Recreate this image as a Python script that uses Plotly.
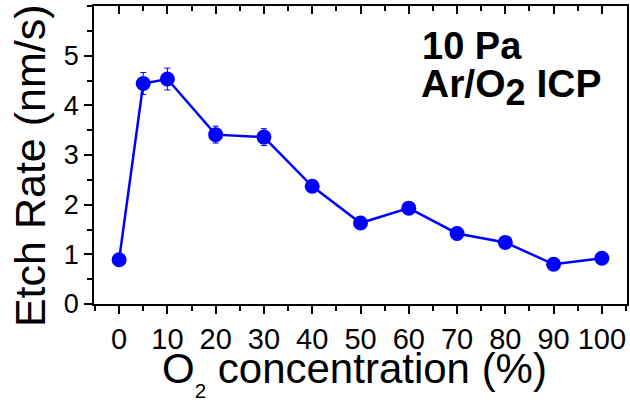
import plotly.graph_objects as go

o2_conc = [0, 5, 10, 20, 30, 40, 50, 60, 70, 80, 90, 100]
etch_rate = [0.89, 4.44, 4.53, 3.41, 3.36, 2.37, 1.63, 1.93, 1.42, 1.24, 0.80, 0.92]
etch_err = [0.04, 0.22, 0.22, 0.17, 0.17, 0.05, 0.05, 0.05, 0.05, 0.05, 0.05, 0.05]
x_ticks = [0, 10, 20, 30, 40, 50, 60, 70, 80, 90, 100]
y_ticks = [0, 1, 2, 3, 4, 5]

FONT = "Liberation Sans, Arial, sans-serif"
BLUE = "#0000FF"

fig = go.Figure()
fig.add_trace(go.Scatter(
    x=o2_conc, y=etch_rate, mode="lines+markers",
    line=dict(color=BLUE, width=2.5),
    marker=dict(color=BLUE, size=15),
    error_y=dict(type="data", array=etch_err, visible=True,
                 color=BLUE, thickness=1, width=3),
    showlegend=False,
))
# invisible trace to carry the top (inside-tick) axis
fig.add_trace(go.Scatter(
    x=o2_conc, y=etch_rate, xaxis="x2", mode="markers",
    marker=dict(opacity=0), hoverinfo="skip", showlegend=False,
))

fig.update_layout(
    width=630, height=404,
    margin=dict(l=94, r=1, t=6, b=100),
    paper_bgcolor="white", plot_bgcolor="white",
    font=dict(family=FONT, color="black"),
    xaxis=dict(
        range=[-5.2, 105.2], tickvals=x_ticks, ticks="outside", ticklen=8,
        tickwidth=1.5, tickcolor="black",
        minor=dict(dtick=5, tick0=0, ticks="outside", ticklen=5, tickwidth=1.5, tickcolor="black"),
        showline=True, linecolor="black", linewidth=1.5, mirror=True,
        showgrid=False, zeroline=False,
        tickfont=dict(size=29, family=FONT, color="black"),
    ),
    xaxis2=dict(
        overlaying="x", side="top", anchor="y", matches="x",
        range=[-5.2, 105.2], tickvals=x_ticks, ticks="inside", ticklen=8,
        tickwidth=1.5, tickcolor="black",
        minor=dict(dtick=5, tick0=0, ticks="inside", ticklen=5, tickwidth=1.5, tickcolor="black"),
        showticklabels=False, showgrid=False, zeroline=False, showline=False,
    ),
    yaxis=dict(
        range=[0, 6], tickvals=y_ticks, ticks="outside", ticklen=8,
        tickwidth=1.5, tickcolor="black",
        minor=dict(dtick=0.5, tick0=0, ticks="outside", ticklen=5, tickwidth=1.5, tickcolor="black"),
        showline=True, linecolor="black", linewidth=1.5, mirror=True,
        showgrid=False, zeroline=False,
        tickfont=dict(size=27, family=FONT, color="black"),
    ),
)

fig.add_annotation(
    text="O<sub><sub>2</sub></sub> concentration (%)",
    xref="paper", yref="paper", x=0.488, y=-0.13,
    xanchor="center", yanchor="top", showarrow=False,
    font=dict(size=42, family=FONT, color="black"),
)
fig.add_annotation(
    text="Etch Rate (nm/s)", textangle=-90,
    xref="paper", yref="paper", x=-0.12, y=0.463,
    xanchor="center", yanchor="middle", showarrow=False,
    font=dict(size=43, family=FONT, color="black"),
)
fig.add_annotation(
    text="<b>10 Pa</b>", xref="paper", yref="paper", x=0.612, y=0.866,
    xanchor="left", yanchor="middle", showarrow=False,
    font=dict(size=38, family=FONT, color="black"),
)
fig.add_annotation(
    text='<b>Ar/O<sub><span style="font-size:36px">2</span></sub> ICP</b>',
    xref="paper", yref="paper", x=0.61, y=0.728,
    xanchor="left", yanchor="middle", showarrow=False,
    font=dict(size=39, family=FONT, color="black"),
)

fig.write_html("out.html")
